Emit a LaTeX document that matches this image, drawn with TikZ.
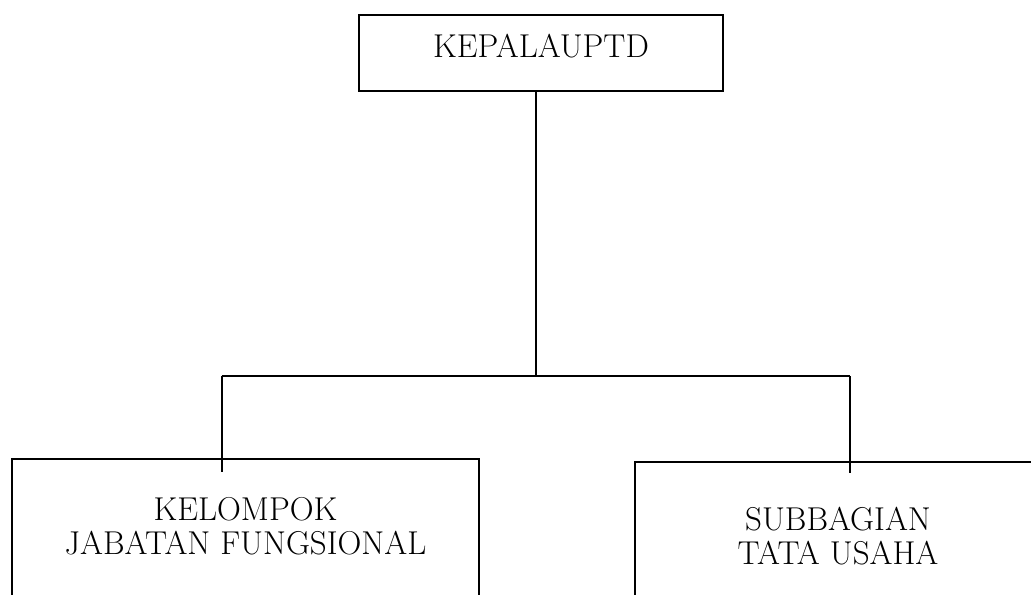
\documentclass[tikz,border=0pt]{standalone}
\usepackage{tikz}
\usetikzlibrary{positioning}
\tikzset{
  unitbox/.style  = {draw, rectangle, line width=1.3pt, align=center,
                     font=\fontsize{23.5pt}{24.5pt}\selectfont, anchor=north},
  headbox/.style  = {unitbox, minimum width=9.1cm, minimum height=1.9cm,
                     text depth=0.37cm},
  link/.style     = {-, line width=1.3pt},
}

\begin{document}
\begin{tikzpicture}
\useasboundingbox (0,0) rectangle (25.775,-14.875);
\clip (0,0) rectangle (25.775,-14.875);

% ===== head =====
\node[headbox] (kepala) at (13.525,-0.35) {KEPALAUPTD};

% ===== units (cut off by the page bottom) =====
\node[unitbox, minimum width=11.675cm, inner ysep=0.95cm, text depth=2cm]
  (kjf) at (6.1375,-11.45) {KELOMPOK\\JABATAN FUNGSIONAL};
\node[unitbox, minimum width=10.15cm, inner ysep=1.12cm, text depth=2cm]
  (stu) at (20.95,-11.525) {SUBBAGIAN\\TATA USAHA};

% ===== bus =====
\coordinate (hub)  at (13.4,-9.4);
\coordinate (busL) at (5.54,-9.4);
\coordinate (busR) at (21.25,-9.4);
\draw[link] (kepala.south -| hub) -- (hub);
\draw[link] (busL) -- (busR);
\draw[link] (busL) -- ([yshift=-0.35cm]busL |- kjf.north);
\draw[link] (busR) -- ([yshift=-0.3cm]busR |- stu.north);

\end{tikzpicture}
\end{document}
